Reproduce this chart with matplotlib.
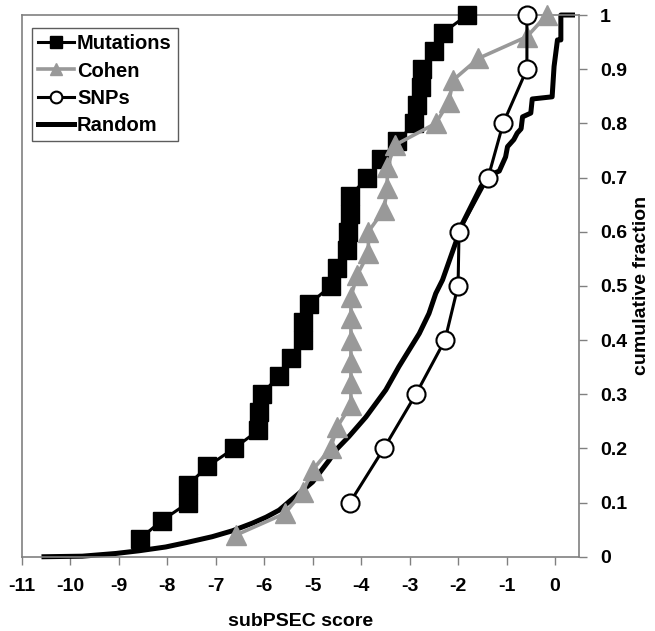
import matplotlib
matplotlib.use("Agg")
import matplotlib.pyplot as plt
import numpy as np

plt.rcParams['font.family'] = ['Liberation Sans', 'DejaVu Sans']
plt.rcParams['font.weight'] = 'bold'

# Mutations (30 points, cumulative fraction k/30)
mut_x = [-8.56, -8.11, -7.56, -7.56, -7.17, -6.62, -6.12, -6.10, -6.05, -5.70,
         -5.45, -5.20, -5.20, -5.07, -4.62, -4.49, -4.30, -4.27, -4.22, -4.22,
         -3.87, -3.59, -3.25, -2.90, -2.85, -2.77, -2.75, -2.49, -2.32, -1.81]
mut_y = [(i + 1) / 30 for i in range(30)]

# Cohen (25 points, k/25)
coh_x = [-6.58, -5.57, -5.20, -5.00, -4.63, -4.49, -4.21, -4.21, -4.21, -4.21,
         -4.21, -4.21, -4.08, -3.85, -3.85, -3.53, -3.46, -3.46, -3.30, -2.46,
         -2.19, -2.10, -1.58, -0.58, -0.17]
coh_y = [(i + 1) / 25 for i in range(25)]

# SNPs (10 points)
snp_x = [-4.23, -3.53, -2.87, -2.27, -2.00, -1.98, -1.38, -1.07, -0.58, -0.58]
snp_y = [0.1, 0.2, 0.3, 0.4, 0.5, 0.6, 0.7, 0.8, 0.9, 1.0]

# Random
rnd_x = [-10.54, -9.75, -9.06, -8.58, -8.03, -7.61, -7.07, -6.65, -6.24, -5.96,
         -5.69, -5.48, -5.28, -5.00, -4.66, -4.52, -4.25, -3.90, -3.49, -3.22,
         -2.80, -2.60, -2.46, -2.32, -1.91, -1.53, -1.33, -1.15, -1.02, -0.98,
         -0.85, -0.78, -0.70, -0.67, -0.50, -0.47, -0.06, -0.02, 0.05, 0.12,
         0.12, 0.36]
rnd_y = [0.0, 0.001, 0.006, 0.011, 0.018, 0.026, 0.037, 0.048, 0.062, 0.073,
         0.086, 0.102, 0.117, 0.138, 0.178, 0.197, 0.222, 0.258, 0.308, 0.351,
         0.412, 0.449, 0.486, 0.511, 0.615, 0.683, 0.705, 0.712, 0.738, 0.757,
         0.770, 0.782, 0.790, 0.812, 0.819, 0.845, 0.849, 0.905, 0.954, 0.954,
         1.0, 1.0]

x_ticks = list(range(-11, 1))
y_ticks = [0, 0.1, 0.2, 0.3, 0.4, 0.5, 0.6, 0.7, 0.8, 0.9, 1]
y_ticklabels = ['0', '0.1', '0.2', '0.3', '0.4', '0.5', '0.6', '0.7', '0.8', '0.9', '1']

fig = plt.figure(figsize=(6.55, 6.31), dpi=100)
ax = fig.add_axes([0.0331, 0.1177, 0.8513, 0.8585])

gray = '#999999'
lr, = ax.plot(rnd_x, rnd_y, color='black', lw=3.6, zorder=2, label='Random',
              clip_on=False, solid_joinstyle='round')
lm, = ax.plot(mut_x, mut_y, color='black', lw=2.2, marker='s', ms=13,
              mfc='black', mec='black', zorder=3, label='Mutations', clip_on=False)
lc, = ax.plot(coh_x, coh_y, color=gray, lw=2.6, marker='^', ms=14,
              mfc=gray, mec=gray, zorder=4, label='Cohen', clip_on=False)
ls, = ax.plot(snp_x, snp_y, color='black', lw=2.2, marker='o', ms=13,
              mfc='white', mec='black', mew=1.5, zorder=5, label='SNPs', clip_on=False)

ax.set_xlim(-11, 0.5)
ax.set_ylim(0, 1)
ax.set_xticks(x_ticks)
ax.set_xticklabels([str(t) for t in x_ticks], fontsize=14, fontweight='bold')
ax.yaxis.tick_right()
ax.yaxis.set_label_position('right')
ax.set_yticks(y_ticks)
ax.set_yticklabels(y_ticklabels, fontsize=14, fontweight='bold')
ax.tick_params(axis='both', direction='out', length=6, width=1, color='#808080')
ax.tick_params(axis='x', pad=9)
ax.tick_params(axis='y', pad=9)
for s in ax.spines.values():
    s.set_color('#808080')
    s.set_linewidth(1.2)

ax.set_xlabel('subPSEC score', fontsize=14, fontweight='bold', labelpad=13)
ax.set_ylabel('cumulative fraction', fontsize=14, fontweight='bold', labelpad=4)

leg = ax.legend(handles=[lm, lc, ls, lr], loc='upper left', bbox_to_anchor=(0.018, 0.976),
                prop={'size': 14.5, 'weight': 'bold'}, frameon=True, fancybox=False,
                edgecolor='#333333', handlelength=1.8, handletextpad=0.15,
                borderpad=0.3, labelspacing=0.42, markerscale=0.65, borderaxespad=0)
leg.get_frame().set_linewidth(1.0)

fig.savefig('out.png', dpi=100)
